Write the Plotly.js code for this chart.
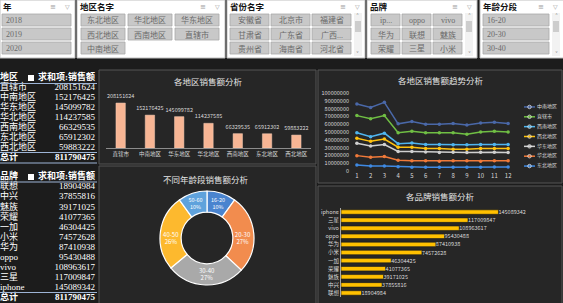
<!DOCTYPE html>
<html><head><meta charset="utf-8">
<script src="https://cdn.plot.ly/plotly-3.0.1.min.js"></script>
<style>html,body{margin:0;padding:0;background:#1c1c1c;overflow:hidden}#chart{width:563px;height:303px}</style>
</head><body><div id="chart"></div>
<script>
// ---------------- DATA ----------------
const regions = ['直辖市','中南地区','华东地区','华北地区','西南地区','东北地区','西北地区'];
const regionSales = [208151624,152176425,145099782,114237585,66329535,65912302,59883222];
const regionTotal = 811790475;

const brands = ['联想','中兴','魅族','荣耀','一加','小米','华为','oppo','vivo','三星','iphone'];
const brandSales = [18904984,37855816,39171025,41077365,46304425,74572628,87410938,95430488,108963617,117009847,145089342];
const brandTotal = 811790475;

const months = [1,2,3,4,5,6,7,8,9,10,11,12];
const trendNames = ['中南地区','直辖市','西南地区','西北地区','华东地区','华北地区','东北地区'];
const trendZhongnan = [86000000,81500000,88000000,60500000,63500000,60000000,60000000,61000000,59000000,61500000,62500000,61000000];
const trendZhixia   = [71000000,67000000,71000000,49000000,51000000,49000000,49000000,49000000,47000000,50000000,51000000,50000000];
const trendXinan    = [49000000,44000000,48500000,35000000,36000000,34000000,34000000,33500000,33500000,34000000,34000000,34000000];
const trendXibei    = [42000000,38000000,41000000,30500000,30500000,29000000,29000000,28000000,28000000,29000000,29000000,29000000];
const trendHuadong  = [35600000,32000000,34000000,25000000,25000000,24500000,23600000,24000000,23600000,24000000,24000000,23600000];
const trendHuabei   = [19700000,17600000,18500000,13700000,13000000,13000000,12500000,13300000,13000000,12500000,13300000,13000000];
const trendDongbei  = [7700000,6400000,6400000,5600000,4700000,4700000,4700000,4700000,4700000,4700000,5100000,5100000];

const ageGroups = ['16-20','20-30','30-40','40-50','50-60'];
const ageShare = [10,27,27,26,10];

const sliceYears = ['2018','2019','2020'];
const sliceAreas = ['东北地区','华北地区','华东地区','西北地区','西南地区','直辖市','中南地区'];
const sliceProvinces = ['安徽省','北京市','福建省','甘肃省','广东省','广西...','贵州省','海南省','河北省'];
const sliceBrands = ['ip...','oppo','vivo','华为','联想','魅族','荣耀','三星','小米'];
const sliceAges = ['16-20','20-30','30-40'];

// ---------------- STYLE ----------------
const trendColors = ['#4a68a8','#70bf44','#4fb5ef','#ffc20e','#d0d0d0','#f07a3a','#3f8ae3'];
const ageColors = ['#4a84cf','#f28c4e','#a9a9a9','#fdb92e','#5fa2dc'];
const SANS = '"Noto Sans CJK SC","Noto Sans",sans-serif';
const SERIF = '"Liberation Serif","Noto Sans CJK SC",serif';
const TXT = '#d9d9d9';

const W = 563, H = 303;
const fx = x => x / W;
const fy = y => 1 - y / H;

const shapes = [], annotations = [], traces = [];
function rect(x0, y0, x1, y1, fill, line, lw) {
  shapes.push({type:'rect', xref:'paper', yref:'paper', x0:fx(x0), x1:fx(x1), y0:fy(y1), y1:fy(y0),
    fillcolor:fill, line:{color:line || fill, width: lw === undefined ? 1 : lw}, layer:'below'});
}
function hline(x0, x1, y, color, w) {
  shapes.push({type:'line', xref:'paper', yref:'paper', x0:fx(x0), x1:fx(x1), y0:fy(y), y1:fy(y),
    line:{color:color, width:w || 1}, layer:'above'});
}
function label(x, y, text, font, xanchor) {
  annotations.push({xref:'paper', yref:'paper', x:fx(x), y:fy(y), text:text, showarrow:false,
    xanchor:xanchor || 'left', yanchor:'middle', font:font, borderpad:0});
}

// ---------------- SLICERS ----------------
const slicers = [
  {title:'年', x0:0, x1:75, items:sliceYears, cols:1, bx:2, bw:69, pitch:0, scroll:false},
  {title:'地区名字', x0:77, x1:225, items:sliceAreas, cols:3, bx:81, bw:44, pitch:47, scroll:false},
  {title:'省份名字', x0:227, x1:365, items:sliceProvinces, cols:3, bx:230, bw:39, pitch:41, scroll:true},
  {title:'品牌', x0:367, x1:477, items:sliceBrands, cols:3, bx:371, bw:29, pitch:31, scroll:true},
  {title:'年龄分段', x0:480, x1:566, items:sliceAges, cols:1, bx:483, bw:66, pitch:0, scroll:true}
];
slicers.forEach(s => {
  rect(s.x0, 0, s.x1, 58, '#ffffff', '#bfbfbf', 1);
  label(s.x0 + 2, 7, '<b>' + s.title + '</b>', {family:SERIF, size:8.5, color:'#111'});
  const right = Math.min(s.x1, 563);
  label(right - 22, 7, '≡', {family:'DejaVu Sans', size:7, color:'#9a9a9a'}, 'center');
  label(right - 8, 7, '▽', {family:'DejaVu Sans', size:6, color:'#9a9a9a'}, 'center');
  s.items.forEach((t, i) => {
    const c = i % s.cols, r = Math.floor(i / s.cols);
    const x0 = s.bx + c * s.pitch, y0 = 14 + r * 14;
    rect(x0, y0, x0 + s.bw, y0 + 12, '#c8c8c8', '#a8a8a8', 0.8);
    if (s.cols === 1) label(x0 + 3, y0 + 6.5, t, {family:SERIF, size:8, color:'#6a6a6a'});
    else label(x0 + s.bw / 2, y0 + 6.5, t, {family:SERIF, size:8, color:'#6a6a6a'}, 'center');
  });
  if (s.scroll) {
    const sx = s.bx + (s.cols === 1 ? s.bw : (s.cols - 1) * s.pitch + s.bw) + 3;
    rect(sx, 13, sx + 8, 56, '#f2f2f2', '#f2f2f2', 0);
    rect(sx + 1, 21, sx + 7, 32, '#cdcdcd', '#cdcdcd', 0);
    label(sx + 4, 16, '˄', {family:'DejaVu Sans', size:6, color:'#7a7a7a'}, 'center');
    label(sx + 4, 53, '˅', {family:'DejaVu Sans', size:6, color:'#7a7a7a'}, 'center');
  }
});

// ---------------- PANELS ----------------
rect(99, 70, 316, 164, '#262626', '#555555', 1);
rect(99, 166, 316, 304, '#262626', '#555555', 1);
rect(318, 70, 562, 183, '#262626', '#555555', 1);
rect(318, 186, 562, 304, '#262626', '#555555', 1);

const titleFont = {family:SANS, size:8.5, color:'#e3e3e3'};
label(208, 81, '各地区销售额分析', titleFont, 'center');
label(441, 80, '各地区销售额趋势分析', titleFont, 'center');
label(206, 179, '不同年龄段销售额分析', titleFont, 'center');
label(440, 196, '各品牌销售额分析', titleFont, 'center');

// ---------------- PIVOT TABLES ----------------
function pivot(names, values, total, head, xa, ya) {
  const left = ['<b>' + head + '</b>'].concat(names).concat(['<b>总计</b>']);
  const right = ['<b>求和项:销售额</b>'].concat(values.map(v => String(v))).concat(['<b>' + total + '</b>']);
  traces.push({type:'scatter', mode:'text', xaxis:xa, yaxis:ya, x:left.map(() => 0), y:left.map((_, i) => i),
    text:left, textposition:'middle right', textfont:{family:SERIF, size:9, color:'#ffffff'}, cliponaxis:false, hoverinfo:'skip'});
  traces.push({type:'scatter', mode:'text', xaxis:xa, yaxis:ya, x:right.map(() => 95), y:right.map((_, i) => i),
    text:right, textposition:'middle left', textfont:{family:SERIF, size:9, color:'#ffffff'}, cliponaxis:false, hoverinfo:'skip'});
}
pivot(regions, regionSales, regionTotal, '地区', 'x4', 'y4');
pivot(brands, brandSales, brandTotal, '品牌', 'x6', 'y6');
rect(28, 75, 34, 81, '#ffffff', '#ffffff', 0);
rect(28, 174, 34, 180, '#ffffff', '#ffffff', 0);
hline(0, 97, 83.5, '#9db4d6', 1);
hline(0, 97, 152.5, '#9db4d6', 1);
hline(0, 97, 163, '#9db4d6', 1);
hline(0, 97, 182, '#9db4d6', 1);
hline(0, 97, 292.5, '#9db4d6', 1);

// ---------------- CHART 1: region bars ----------------
traces.push({type:'bar', x:regions, y:regionSales, xaxis:'x', yaxis:'y', width:0.32,
  marker:{color:'#f7b594', line:{color:'#fbd0b8', width:0.5}},
  text:regionSales.map(v => String(v)), textposition:'outside', constraintext:'none',
  textfont:{family:SANS, size:5.5, color:TXT}, cliponaxis:false, hoverinfo:'skip'});

// ---------------- CHART 2: trend lines ----------------
const trendSeries = [trendZhongnan, trendZhixia, trendXinan, trendXibei, trendHuadong, trendHuabei, trendDongbei];
trendSeries.forEach((s, i) => {
  traces.push({type:'scatter', mode:'lines+markers', x:months, y:s, xaxis:'x2', yaxis:'y2',
    line:{color:trendColors[i], width:1.5}, marker:{color:trendColors[i], size:3.5}, hoverinfo:'skip'});
  // custom compact legend
  traces.push({type:'scatter', mode:'lines+markers', x:[2, 7.5, 13], y:[i, i, i], xaxis:'x5', yaxis:'y5',
    line:{color:trendColors[i], width:1.5}, marker:{color:trendColors[i], size:[0, 3.5, 0]}, cliponaxis:false, hoverinfo:'skip'});
});
traces.push({type:'scatter', mode:'text', x:trendNames.map(() => 15), y:trendNames.map((_, i) => i), xaxis:'x5', yaxis:'y5',
  text:trendNames, textposition:'middle right', textfont:{family:SANS, size:5, color:TXT}, cliponaxis:false, hoverinfo:'skip'});

// ---------------- CHART 3: age donut ----------------
traces.push({type:'pie', labels:ageGroups, values:ageShare, hole:0.55, sort:false, direction:'clockwise', rotation:0,
  domain:{x:[fx(160), fx(254)], y:[fy(285), fy(191)]},
  marker:{colors:ageColors, line:{color:'#ffffff', width:1.2}},
  texttemplate:'%{label}<br>%{percent:.0%}', textposition:'inside', insidetextorientation:'horizontal',
  textfont:{family:SANS, size:6, color:'#ffffff'}, hoverinfo:'skip'});

// ---------------- CHART 4: brand bars ----------------
traces.push({type:'bar', orientation:'h', x:brandSales, y:brands, xaxis:'x3', yaxis:'y3', width:0.55,
  marker:{color:'#ffc000', line:{color:'#1a1a1a', width:0.6}},
  text:brandSales.map(v => String(v)), textposition:'outside', constraintext:'none',
  textfont:{family:SANS, size:5.5, color:TXT}, cliponaxis:false, hoverinfo:'skip'});

const hid = {visible:false, fixedrange:true};
const layout = {
  width:W, height:H, margin:{l:0, r:0, t:0, b:0}, paper_bgcolor:'#1c1c1c', plot_bgcolor:'rgba(0,0,0,0)',
  showlegend:false, hovermode:false, shapes:shapes, annotations:annotations,
  xaxis:{domain:[fx(106), fx(311)], type:'category', showgrid:false, zeroline:false, showline:true, linecolor:'#8c8c8c', linewidth:1,
    ticks:'', tickfont:{family:SANS, size:5.5, color:TXT}, anchor:'y', fixedrange:true},
  yaxis:Object.assign({domain:[fy(148), fy(94)], range:[0, 250e6], anchor:'x'}, hid),
  xaxis2:{domain:[fx(350), fx(515)], range:[0.5, 12.5], tickvals:months, showgrid:false, zeroline:false, showline:false,
    ticks:'', tickfont:{family:SANS, size:6, color:TXT}, anchor:'y2', fixedrange:true},
  yaxis2:{domain:[fy(171), fy(93)], range:[0, 100e6], tick0:0, dtick:10e6, tickformat:'d', showgrid:false, zeroline:false,
    showline:false, ticks:'', tickfont:{family:SANS, size:5.5, color:TXT}, anchor:'x2', fixedrange:true},
  xaxis3:Object.assign({domain:[fx(341), fx(545)], range:[0, 188e6], anchor:'y3'}, hid),
  yaxis3:{domain:[fy(297), fy(208)], type:'category', showgrid:false, zeroline:false, showline:true, linecolor:'#a6a6a6',
    ticks:'', tickfont:{family:SANS, size:5.5, color:TXT}, anchor:'x3', fixedrange:true},
  xaxis4:Object.assign({domain:[0, fx(97)], range:[0, 97], anchor:'y4'}, hid),
  yaxis4:Object.assign({domain:[fy(163), fy(73)], range:[8.5, -0.5], anchor:'x4'}, hid),
  xaxis5:Object.assign({domain:[fx(522), fx(563)], range:[0, 41], anchor:'y5'}, hid),
  yaxis5:Object.assign({domain:[fy(171), fy(102)], range:[6.5, -0.5], anchor:'x5'}, hid),
  xaxis6:Object.assign({domain:[0, fx(97)], range:[0, 97], anchor:'y6'}, hid),
  yaxis6:Object.assign({domain:[0, fy(172)], range:[12.5, -0.5], anchor:'x6'}, hid)
};
Plotly.newPlot('chart', traces, layout, {staticPlot:true, displayModeBar:false});
</script></body></html>
